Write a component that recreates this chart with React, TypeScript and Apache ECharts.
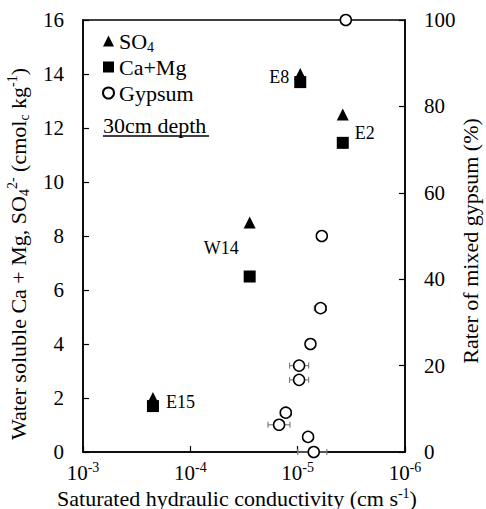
import { useEffect, useRef } from 'react';
import * as echarts from 'echarts';

const FONT = 'Liberation Serif';

// Sites (SO4 / Ca+Mg, left axis)
const sites = ['E8', 'E2', 'W14', 'E15'];
const siteK = [9.46e-6, 3.8e-6, 2.8e-5, 2.23e-4];
const so4 = [14.0, 12.5, 8.5, 2.0];
const caMg = [13.7, 11.45, 6.5, 1.7];

// Gypsum (right axis)
const gypsumK = [3.56e-6, 5.96e-6, 6.12e-6, 7.6e-6, 9.7e-6, 9.7e-6, 1.29e-5, 1.49e-5, 8.0e-6, 7.08e-6];
const gypsumRate = [100, 50, 33.3, 25, 20, 16.7, 9.1, 6.3, 3.5, 0];
const gypsumKLow = [null, null, 5.4e-6, null, 7.9e-6, 7.9e-6, 1.15e-5, 1.18e-5, 7.2e-6, 5.36e-6];
const gypsumKHigh = [null, null, 7.0e-6, null, 1.19e-5, 1.19e-5, 1.45e-5, 1.89e-5, 8.9e-6, 9.98e-6];

// Axes
const xMin = 1e-6;
const xMax = 1e-3;
const leftMin = 0, leftMax = 16, leftStep = 2;
const rightMin = 0, rightMax = 100, rightStep = 20;

const legendNames = ['SO4', 'Ca+Mg', 'Gypsum'];
const noteText = '30cm depth';

const siteLabelStyle: Record<string, any> = {
  E8: { series: 'so4', position: 'left', distance: 5, offset: [0, 3] },
  E2: { series: 'camg', position: 'right', distance: 6, offset: [0, -10] },
  W14: { series: 'so4', position: 'left', distance: 5, offset: [0, 25] },
  E15: { series: 'so4', position: 'right', distance: 7, offset: [0, 4] },
};

const supRich = {
  sup: { fontSize: 14, lineHeight: 12, verticalAlign: 'top', fontFamily: FONT, color: '#000' },
  sub: { fontSize: 14, lineHeight: 12, verticalAlign: 'bottom', fontFamily: FONT, color: '#000' },
};

function makeData(values: number[], key: string) {
  return siteK.map((k, i) => {
    const name = sites[i];
    const ls = siteLabelStyle[name];
    const d: any = { name, value: [k, values[i]] };
    if (ls && ls.series === key) {
      d.label = {
        show: true,
        formatter: name,
        position: ls.position,
        distance: ls.distance,
        offset: ls.offset,
        fontSize: 18,
        fontFamily: FONT,
        color: '#000',
      };
    }
    return d;
  });
}

export default function App() {
  const ref = useRef<HTMLDivElement>(null);

  useEffect(() => {
    if (!ref.current) return;
    const chart = echarts.init(ref.current, undefined, { renderer: 'svg' });

    const errData = gypsumK
      .map((k, i) => [k, gypsumRate[i], gypsumKLow[i], gypsumKHigh[i]])
      .filter((d) => d[2] != null && d[3] != null);

    const axisLine = { show: true, lineStyle: { color: '#000', width: 1.5 } };
    const axisTick = { show: true, inside: true, length: 6, lineStyle: { color: '#000', width: 1.2 } };

    const option: any = {
      animation: false,
      backgroundColor: '#fff',
      textStyle: { fontFamily: FONT, color: '#000' },
      grid: {
        left: 83,
        right: 81,
        top: 20,
        bottom: 57,
        show: true,
        borderColor: '#000',
        borderWidth: 1.5,
        containLabel: false,
        outerBoundsMode: 'none',
      },
      legend: {
        orient: 'vertical',
        left: 102,
        top: 28,
        padding: 0,
        itemWidth: 11,
        itemHeight: 11,
        itemGap: 0,
        data: [
          { name: legendNames[0], icon: 'triangle' },
          { name: legendNames[1], icon: 'rect' },
          { name: legendNames[2], icon: 'circle' },
        ],
        formatter: (n: string) => (n === 'SO4' ? 'SO{sub|4}' : n),
        textStyle: {
          fontSize: 22,
          lineHeight: 26,
          fontFamily: FONT,
          color: '#000',
          rich: {
            sub: { fontSize: 14, lineHeight: 12, verticalAlign: 'bottom', fontFamily: FONT, color: '#000' },
          },
        },
      },
      xAxis: {
        type: 'log',
        logBase: 10,
        min: xMin,
        max: xMax,
        inverse: true,
        splitLine: { show: false },
        axisLine,
        axisTick,
        axisLabel: {
          margin: 8,
          fontSize: 21,
          lineHeight: 26,
          fontFamily: FONT,
          color: '#000',
          formatter: (v: number) => `10{sup|${Math.round(Math.log10(v))}}`,
          rich: { sup: { ...supRich.sup, fontSize: 14 } },
        },
        name: 'Saturated hydraulic conductivity (cm s{sup|-1})',
        nameLocation: 'middle',
        nameGap: 34,
        nameMoveOverlap: false,
        nameTextStyle: {
          fontSize: 22,
          lineHeight: 24,
          fontFamily: FONT,
          color: '#000',
          padding: [0, 14, 0, 0],
          rich: { sup: { ...supRich.sup, fontSize: 14, lineHeight: 11 } },
        },
      },
      yAxis: [
        {
          type: 'value',
          min: leftMin,
          max: leftMax,
          interval: leftStep,
          position: 'left',
          splitLine: { show: false },
          axisLine,
          axisTick,
          axisLabel: { margin: 19, fontSize: 21, fontFamily: FONT, color: '#000' },
          name: 'Water soluble Ca + Mg, SO{sub|4}{sup|2-} (cmol{sub|c} kg{sup|-1})',
          nameLocation: 'middle',
          nameRotate: 90,
          nameGap: 52,
          nameMoveOverlap: false,
          nameTextStyle: {
            fontSize: 22,
            lineHeight: 26,
            fontFamily: FONT,
            color: '#000',
            padding: [0, 36, 0, 0],
            rich: supRich,
          },
        },
        {
          type: 'value',
          min: rightMin,
          max: rightMax,
          interval: rightStep,
          position: 'right',
          splitLine: { show: false },
          axisLine,
          axisTick,
          axisLabel: { margin: 19, fontSize: 21, fontFamily: FONT, color: '#000' },
          name: 'Rater of mixed gypsum (%)',
          nameLocation: 'middle',
          nameRotate: 90,
          nameGap: 52,
          nameMoveOverlap: false,
          nameTextStyle: {
            fontSize: 22,
            lineHeight: 26,
            fontFamily: FONT,
            color: '#000',
            padding: [0, 10, 0, 0],
          },
        },
      ],
      series: [
        {
          type: 'custom',
          name: 'gypsumErr',
          xAxisIndex: 0,
          yAxisIndex: 1,
          z: 1,
          silent: true,
          clip: false,
          encode: { x: 0, y: 1 },
          data: errData,
          renderItem: (_params: any, api: any) => {
            const y = api.value(1);
            const a = api.coord([api.value(2), y]);
            const b = api.coord([api.value(3), y]);
            const cap = 3;
            const style = { stroke: '#808080', lineWidth: 1.2 };
            return {
              type: 'group',
              children: [
                { type: 'line', shape: { x1: a[0], y1: a[1], x2: b[0], y2: b[1] }, style },
                { type: 'line', shape: { x1: a[0], y1: a[1] - cap, x2: a[0], y2: a[1] + cap }, style },
                { type: 'line', shape: { x1: b[0], y1: b[1] - cap, x2: b[0], y2: b[1] + cap }, style },
              ],
            };
          },
        },
        {
          type: 'scatter',
          name: legendNames[1],
          xAxisIndex: 0,
          yAxisIndex: 0,
          symbol: 'rect',
          symbolSize: 12,
          z: 3,
          clip: false,
          itemStyle: { color: '#000', opacity: 1 },
          data: makeData(caMg, 'camg'),
        },
        {
          type: 'scatter',
          name: legendNames[0],
          xAxisIndex: 0,
          yAxisIndex: 0,
          symbol: 'triangle',
          symbolSize: 12,
          z: 4,
          clip: false,
          itemStyle: { color: '#000', opacity: 1 },
          data: makeData(so4, 'so4'),
        },
        {
          type: 'scatter',
          name: legendNames[2],
          xAxisIndex: 0,
          yAxisIndex: 1,
          symbol: 'circle',
          symbolSize: 11,
          z: 5,
          clip: false,
          itemStyle: { color: '#fff', borderColor: '#000', borderWidth: 1.5, opacity: 1 },
          data: gypsumK.map((k, i) => [k, gypsumRate[i]]),
        },
      ],
      graphic: [
        {
          type: 'text',
          left: 103,
          top: 114,
          style: { text: noteText, fontSize: 22, fontFamily: FONT, fill: '#000' },
        },
        {
          type: 'line',
          shape: { x1: 103, y1: 136, x2: 209, y2: 136 },
          style: { stroke: '#000', lineWidth: 1.3 },
        },
      ],
    };

    chart.setOption(option);
    return () => chart.dispose();
  }, []);

  return (
    <div
      ref={ref}
      style={{ position: 'fixed', left: 0, top: 0, width: 486, height: 509, background: '#fff' }}
    />
  );
}
